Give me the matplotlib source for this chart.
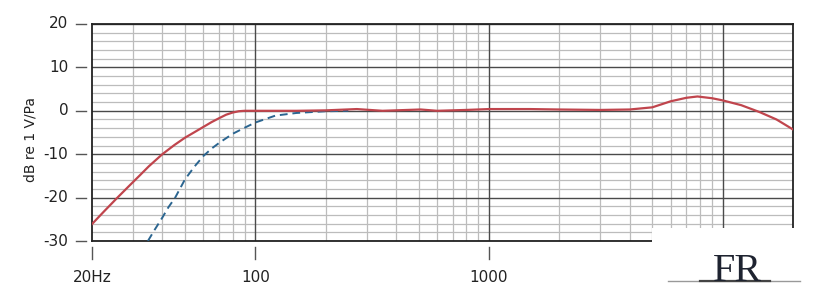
import numpy as np
import matplotlib
matplotlib.use('Agg')
import matplotlib.pyplot as plt
import matplotlib.transforms as mtransforms
from matplotlib.patches import Rectangle
from matplotlib.lines import Line2D

# solid (red) response curve
freqRed = [20, 22.5, 25.7, 28.6, 32, 35, 40, 45, 50, 55, 60, 65, 70, 75, 80, 85, 90, 100,
           150, 200, 272, 350, 510, 600, 800, 1000, 1500, 2000, 3000, 4000, 5000, 6000,
           7000, 7800, 9000, 10000, 12000, 14400, 17000, 20000]
dbRed = [-26.1, -23.2, -20, -17.5, -14.9, -12.8, -10, -7.9, -6.2, -4.9, -3.7, -2.6, -1.7,
         -0.9, -0.4, -0.1, 0, 0, 0, 0.1, 0.4, 0, 0.3, 0, 0.2, 0.4, 0.4, 0.3, 0.2, 0.3, 0.8,
         2.2, 3.0, 3.3, 2.9, 2.4, 1.3, -0.3, -2.0, -4.3]

# dashed (blue) response curve
freqBlue = [34.7, 37, 40, 42.5, 45.4, 50, 55, 60, 65, 70, 80, 90, 100, 122, 150, 200, 250]
dbBlue = [-30, -27.5, -24.6, -22.2, -20, -15.8, -12.8, -10.4, -8.7, -7.4, -5.3, -3.9, -2.7,
          -1.1, -0.5, -0.1, 0]

yTicks = [20, 10, 0, -10, -20, -30]
xTicks = [20, 100, 1000]
xTickLabels = ['20Hz', '100', '1000']

fig = plt.figure(figsize=(8.4, 3.04), dpi=100)
ax = fig.add_axes([92/840, 63/304, 701/840, 217/304])
ax.set_xscale('log')
ax.set_xlim(20, 20000)
ax.set_ylim(-30, 20)

#grid lines
minorX = [f for dec in [10, 100, 1000] for f in np.arange(2, 10) * dec if 20 < f < 10000]
for f in minorX:
    ax.axvline(f, color='#bcbcbc', lw=0.9, zorder=1)
for f in [100, 1000, 10000]:
    ax.axvline(f, color='#4a4a4a', lw=1.0, zorder=2)
for y in range(-28, 20, 2):
    if y % 10 != 0:
        ax.axhline(y, color='#bcbcbc', lw=0.9, zorder=1)
for y in yTicks:
    ax.axhline(y, color='#4a4a4a', lw=1.0, zorder=2)

for s in ax.spines.values():
    s.set_color('#222222')
    s.set_linewidth(1.3)

ax.plot(freqRed, dbRed, color='#c0454d', lw=1.6, zorder=4)
ax.plot(freqBlue, dbBlue, color='#2b6590', lw=1.4, ls=(0, (4, 2.5)), zorder=3)

ax.set_xticks([])
ax.set_yticks([])
ax.minorticks_off()

#custom detached tick marks and labels
transY = mtransforms.blended_transform_factory(ax.transAxes, ax.transData)
for y in yTicks:
    ax.add_line(Line2D([-0.023, -0.0086], [y, y], transform=transY, color='#555555',
                       lw=1.0, clip_on=False))
    ax.text(-0.034, y, str(y), transform=transY, ha='right', va='center',
            fontsize=11, color='#222222')

transX = mtransforms.blended_transform_factory(ax.transData, ax.transAxes)
for f, lab in zip(xTicks, xTickLabels):
    ax.add_line(Line2D([f, f], [-0.028, -0.083], transform=transX, color='#555555',
                       lw=1.0, clip_on=False))
    ax.text(f, -0.17, lab, transform=transX, ha='center', va='center',
            fontsize=11, color='#222222')

fig.text(30/840, 1 - 140/304, 'dB re 1 V/Pa', rotation=90, ha='center', va='center',
         fontsize=10, color='#222222')

#white patch with logo in bottom right
fig.add_artist(Rectangle((652/840, 0), 1, 76/304, transform=fig.transFigure,
                         facecolor='white', edgecolor='none', zorder=10))
fig.text(737/840, 1 - 281/304, 'FR', fontsize=29, family='Liberation Serif', color='#1e2330',
         ha='center', va='baseline', zorder=11)
fig.add_artist(Line2D([668/840, 800/840], [1 - 281/304, 1 - 281/304], transform=fig.transFigure,
                      color='#999999', lw=1.0, zorder=11))
fig.add_artist(Line2D([700/840, 770/840], [1 - 281/304, 1 - 281/304], transform=fig.transFigure,
                      color='#444444', lw=1.6, zorder=11))

fig.savefig('out.png', dpi=100, facecolor='white')
